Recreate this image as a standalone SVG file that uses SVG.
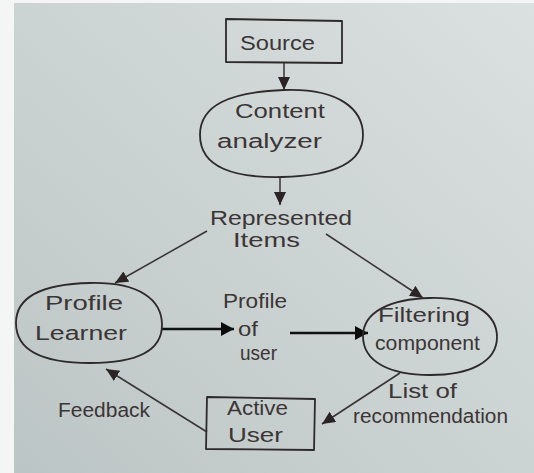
<svg xmlns="http://www.w3.org/2000/svg" width="534" height="473" viewBox="0 0 534 473">
  <style>
    .ink { fill: none; stroke: #2f2a2a; stroke-width: 1.8; stroke-linejoin: round; }
    .link { fill: none; stroke: #3a3333; stroke-width: 1.5; }
    .bold { fill: none; stroke: #111; stroke-width: 2.6; }
    .lbl { font-family: "Liberation Sans", "DejaVu Sans", sans-serif; font-size: 20px; fill: #3c3535; }
  </style>
  <defs>
    <linearGradient id="paper" x1="1" y1="0" x2="0" y2="1">
      <stop offset="0" stop-color="#dbe0e0"/>
      <stop offset="0.5" stop-color="#ccd3d3"/>
      <stop offset="1" stop-color="#bcc5c5"/>
    </linearGradient>
    <marker id="head" markerUnits="userSpaceOnUse" markerWidth="16" markerHeight="14" refX="13" refY="6" orient="auto">
      <path d="M0,0 L13,6 L0,12 Z" fill="#2a2424"/>
    </marker>
    <marker id="headBold" markerUnits="userSpaceOnUse" markerWidth="16" markerHeight="16" refX="13" refY="7" orient="auto">
      <path d="M0,0 L13,7 L0,14 Z" fill="#0c0c0c"/>
    </marker>
  </defs>

  <!-- page -->
  <rect x="0" y="0" width="534" height="473" fill="#f4f5f5"/>
  <rect x="14" y="3" width="520" height="470" fill="url(#paper)"/>

  <!-- connectors -->
  <g id="connectors">
    <line class="link" x1="284" y1="63" x2="284" y2="90" marker-end="url(#head)"/>
    <line class="link" x1="280" y1="177" x2="280" y2="205" marker-end="url(#head)"/>
    <line class="link" x1="207" y1="231" x2="115" y2="283" marker-end="url(#head)"/>
    <line class="link" x1="326" y1="234" x2="423" y2="298" marker-end="url(#head)"/>
    <line class="bold" x1="162" y1="329" x2="234" y2="329" marker-end="url(#headBold)"/>
    <line class="bold" x1="290" y1="333" x2="368" y2="333" marker-end="url(#headBold)"/>
    <line class="link" x1="400" y1="373" x2="322" y2="424" marker-end="url(#head)"/>
    <line class="link" x1="207" y1="432" x2="106" y2="369" marker-end="url(#head)"/>
  </g>

  <!-- nodes -->
  <g id="source">
    <path class="ink" d="M226,19 L342,21 L342,63 L226,62 Z"/>
    <text class="lbl" x="240" y="50" textLength="75" lengthAdjust="spacingAndGlyphs">Source</text>
  </g>

  <g id="content-analyzer">
    <path class="ink" d="M284,90 C340,88 363,110 363,135 C363,165 330,176 282,177 C235,178 200,168 200,135 C200,105 230,92 284,90 Z"/>
    <text class="lbl" x="235" y="118" textLength="90" lengthAdjust="spacingAndGlyphs">Content</text>
    <text class="lbl" x="217" y="148" textLength="105" lengthAdjust="spacingAndGlyphs">analyzer</text>
  </g>

  <g id="represented-items">
    <text class="lbl" x="210" y="225" textLength="142" lengthAdjust="spacingAndGlyphs">Represented</text>
    <text class="lbl" x="233" y="247" textLength="67" lengthAdjust="spacingAndGlyphs">Items</text>
  </g>

  <g id="profile-learner">
    <path class="ink" d="M90,283 C140,282 162,300 162,325 C162,352 135,363 90,363 C45,363 16,352 16,323 C16,295 45,284 90,283 Z"/>
    <text class="lbl" x="45" y="310" textLength="78" lengthAdjust="spacingAndGlyphs">Profile</text>
    <text class="lbl" x="35" y="340" textLength="92" lengthAdjust="spacingAndGlyphs">Learner</text>
  </g>

  <g id="profile-of-user">
    <text class="lbl" x="223" y="308" textLength="64" lengthAdjust="spacingAndGlyphs">Profile</text>
    <text class="lbl" x="238" y="336" textLength="20" lengthAdjust="spacingAndGlyphs">of</text>
    <text class="lbl" x="240" y="360" textLength="37" lengthAdjust="spacingAndGlyphs">user</text>
  </g>

  <g id="filtering-component">
    <path class="ink" d="M430,298 C475,297 497,315 497,337 C497,362 470,375 430,375 C390,375 363,362 363,336 C363,312 390,299 430,298 Z"/>
    <text class="lbl" x="378" y="322" textLength="92" lengthAdjust="spacingAndGlyphs">Filtering</text>
    <text class="lbl" x="375" y="350" textLength="105" lengthAdjust="spacingAndGlyphs">component</text>
  </g>

  <g id="list-of-recommendation">
    <text class="lbl" x="388" y="398" textLength="69" lengthAdjust="spacingAndGlyphs">List of</text>
    <text class="lbl" x="353" y="423" textLength="155" lengthAdjust="spacingAndGlyphs">recommendation</text>
  </g>

  <g id="active-user">
    <path class="ink" d="M207,397 L315,399 L314,450 L206,449 Z"/>
    <text class="lbl" x="227" y="415" textLength="61" lengthAdjust="spacingAndGlyphs">Active</text>
    <text class="lbl" x="228" y="442" textLength="55" lengthAdjust="spacingAndGlyphs">User</text>
  </g>

  <g id="feedback">
    <text class="lbl" x="58" y="417" textLength="92" lengthAdjust="spacingAndGlyphs">Feedback</text>
  </g>
</svg>
